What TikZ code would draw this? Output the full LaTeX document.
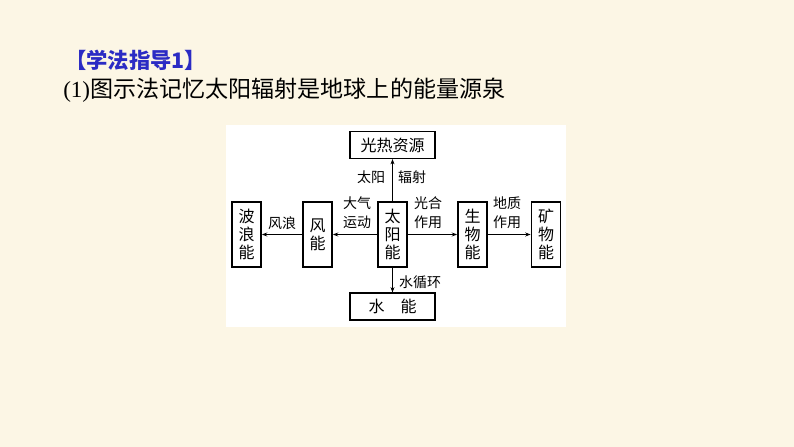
\documentclass[tikz,border=0pt]{standalone}
\usepackage{fontspec}
\setmainfont{Liberation Serif}
\newfontfamily\cjk{Noto Sans CJK SC}
\usetikzlibrary{arrows.meta}
\definecolor{paper}{HTML}{FCF6E5}
\definecolor{titleblue}{HTML}{2B2BC4}

\begin{document}
\begin{tikzpicture}[x=0.75pt,y=-0.75pt,
    box/.style={draw, line width=1.1pt, inner sep=0pt, align=center,
        font=\cjk\fontsize{12}{13.5}\selectfont},
    tallbox/.style={box, minimum width=22pt, minimum height=49pt},
    widebox/.style={box, minimum width=64pt, minimum height=20pt},
    lbl/.style={inner sep=0pt, align=center, font=\cjk\fontsize{10.5}{14}\selectfont},
    flow/.style={-{Stealth[length=4pt,width=3pt]}, line width=0.6pt}]

        % Draw page and diagram background
        \fill[paper] (0,0) rectangle (794,447);
        \fill[white] (226,125) rectangle (566,327);

        % Draw title lines
        \node[anchor=west, inner sep=0pt, text=titleblue, font=\cjk\bfseries\fontsize{16}{20}\selectfont]
            (title) at (65,60) {【学法指导1】};
        \node[anchor=west, inner sep=0pt, font=\fontsize{17.3}{20}\selectfont]
            (subtitle) at (63,90) {(1)\cjk 图示法记忆太阳辐射是地球上的能量源泉};

        % Draw energy boxes
        \node[tallbox] (sun) at (392.5,234.5) {太\\阳\\能};
        \node[tallbox] (wind) at (317.5,234.5) {风\\能};
        \node[tallbox] (wave) at (246.5,234.5) {波\\浪\\能};
        \node[tallbox] (bio) at (472.5,234.5) {生\\物\\能};
        \node[tallbox] (mineral) at (546,234.5) {矿\\物\\能};
        \node[widebox] (heat) at (392.5,145) {光热资源};
        \node[widebox] (water) at (392.5,306.5) {水\quad 能};

        % Draw arrows
        \draw[flow] (sun) -- (heat);
        \draw[flow] (sun) -- (water);
        \draw[flow] (sun) -- (wind);
        \draw[flow] (wind) -- (wave);
        \draw[flow] (sun) -- (bio);
        \draw[flow] (bio) -- (mineral);

        % Draw arrow labels
        \node[lbl] (l-tai) at (371,177) {太阳};
        \node[lbl] (l-fu) at (412,177) {辐射};
        \node[lbl] (l-air) at (357,213) {大气\\运动};
        \node[lbl] (l-photo) at (428,213) {光合\\作用};
        \node[lbl] (l-wave) at (282,223) {风浪};
        \node[lbl] (l-geo) at (507,213) {地质\\作用};
        \node[lbl] (l-water) at (420,282) {水循环};

    \end{tikzpicture}
\end{document}
